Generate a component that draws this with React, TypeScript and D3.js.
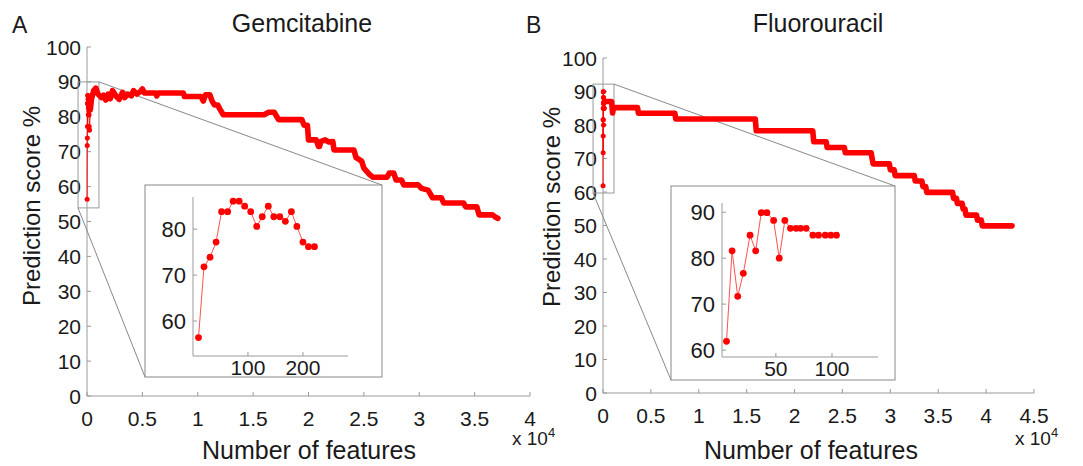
import React from "react";
import * as d3 from "d3";

// ---- Gemcitabine (panel A) ----
const gemInsetFeatures = [10, 20, 31, 42, 52, 63, 73, 84, 94, 105, 116, 126, 137, 147, 158, 168, 179, 189, 200, 210, 221];
const gemInsetScore = [56.4, 71.8, 73.9, 77.2, 83.8, 83.8, 86.1, 86.1, 85.0, 83.8, 80.6, 82.7, 85.0, 82.7, 82.7, 81.7, 83.8, 80.6, 77.2, 76.2, 76.2];

const gemFeatures = [
  300, 400, 600, 800, 1000, 1300, 1500, 1700, 1900, 2100, 2300, 2600, 2900, 3200, 3400, 3700, 4000, 4200, 4500, 4800,
  5000, 5200, 6200, 6300, 6400, 8700, 8800, 10300, 10500, 10700, 11100, 11300, 11500, 11800, 12000, 12300, 16000,
  16400, 16900, 17300, 19400, 19600, 19900, 20000, 20700, 20900, 21000, 21100, 21500, 21800, 22200, 22300, 24100,
  24300, 24800, 25000, 25500, 25800, 27100, 27300, 27700, 27900, 28400, 28600, 29900, 30200, 30800, 31200, 32000,
  32200, 34000, 34200, 35200, 35400, 36600, 36900, 37100,
];
const gemScore = [
  82, 85, 87.5, 88.2, 86.5, 85.5, 86.2, 84.8, 86.5, 85.2, 87.5, 86, 85, 87, 85.5, 86.5, 86, 87.5, 86.5, 87.2,
  88, 86.8, 86.8, 86, 86.8, 86.8, 85.8, 85.8, 84.5, 86.3, 86.3, 84.5, 83.4, 83.4, 82.2, 80.6, 80.6,
  81.3, 81.3, 79.2, 79.2, 77.6, 77.6, 73.4, 73.4, 71.5, 71.5, 72.9, 73.4, 72.8, 72.9, 70.5, 70.5,
  68.3, 67.3, 65.3, 63.5, 62.7, 62.7, 63.9, 63.9, 61.9, 61.9, 60.5, 60.5, 59.5, 59.0, 56.8, 56.8,
  55.3, 55.3, 54.2, 54.2, 51.9, 51.9, 51.2, 50.9,
];

// ---- Fluorouracil (panel B) ----
const fluInsetFeatures = [6, 11, 16, 21, 27, 32, 37, 42, 48, 53, 58, 63, 68, 72, 77, 83, 88, 94, 99, 104];
const fluInsetScore = [61.9, 81.6, 71.7, 76.7, 85, 81.6, 89.9, 89.9, 88.2, 80, 88.2, 86.5, 86.5, 86.5, 86.5, 85, 85, 85, 85, 85];

const fluFeatures = [
  150, 900, 1000, 1100, 3600, 3700, 7500, 7600, 15900, 16000, 21900, 22000, 23300, 23400, 25200, 25300, 28000,
  28100, 28200, 29900, 30000, 30400, 30500, 32500, 32600, 33300, 33400, 33700, 33800, 36500, 36600, 36900, 37000,
  37500, 37600, 37800, 37900, 39000, 39100, 39500, 39600, 42700,
];
const fluScore = [
  87, 87, 83.6, 85.2, 85.2, 83.5, 83.5, 81.8, 81.8, 78.3, 78.3, 75, 75, 73.3, 73.3, 71.7, 71.7,
  70, 68.4, 68.4, 66.6, 66.6, 64.9, 64.9, 63.3, 63.3, 61.6, 61.6, 59.9, 59.9, 58.1, 58.1, 56.6,
  56.6, 54.9, 54.9, 53.1, 53.1, 51.6, 51.6, 49.9, 49.9,
];

const yTickValues = [0, 10, 20, 30, 40, 50, 60, 70, 80, 90, 100];
const gemXTicks = [0, 0.5, 1, 1.5, 2, 2.5, 3, 3.5, 4];
const fluXTicks = [0, 0.5, 1, 1.5, 2, 2.5, 3, 3.5, 4, 4.5];
const gemInsetYTicks = [60, 70, 80];
const gemInsetXTicks = [100, 200];
const fluInsetYTicks = [60, 70, 80, 90];
const fluInsetXTicks = [50, 100];

const FONT = "Liberation Sans, Arial, Helvetica, sans-serif";
const AXIS = "#9a9a9a";
const RED = "#ff0000";
const TXT = "#1a1a1a";

type PanelCfg = {
  letter: string;
  letterX: number;
  title: string;
  titleX: number;
  xRange: [number, number];
  xMax: number;
  yRange: [number, number];
  xTicks: number[];
  yLabelX: number;
  yLabelY: number;
  labelCenter: number;
  expX: number;
  zoomX: [number, number];
  zoomY: [number, number];
  inset: { x0: number; y0: number; x1: number; y1: number };
  insetXDomain: [number, number];
  insetXRange: [number, number];
  insetYDomain: [number, number];
  insetYRange: [number, number];
  insetXTicks: number[];
  insetYTicks: number[];
  insetN: number[];
  insetS: number[];
  n: number[];
  s: number[];
};

function Panel({ c }: { c: PanelCfg }) {
  const xs = d3.scaleLinear().domain([0, c.xMax]).range(c.xRange);
  const ys = d3.scaleLinear().domain([0, 100]).range(c.yRange);
  const x0 = xs(0);
  const y0 = ys(0);

  const ixs = d3.scaleLinear().domain(c.insetXDomain).range(c.insetXRange);
  const iys = d3.scaleLinear().domain(c.insetYDomain).range(c.insetYRange);

  const mainLine = d3
    .line<number>()
    .x((d, i) => xs(c.n[i]))
    .y((d) => ys(d));
  const earlyLine = d3
    .line<number>()
    .x((d, i) => xs(c.insetN[i]))
    .y((d) => ys(d));
  const insetLine = d3
    .line<number>()
    .x((d, i) => ixs(c.insetN[i]))
    .y((d) => iys(d));

  const lastEarly = c.insetN.length - 1;
  const bridge = d3.line()([
    [xs(c.insetN[lastEarly]), ys(c.insetS[lastEarly])],
    [xs(c.n[0]), ys(c.s[0])],
  ]);

  const bx0 = xs(c.zoomX[0]);
  const bx1 = xs(c.zoomX[1]);
  const by0 = ys(c.zoomY[1]);
  const by1 = ys(c.zoomY[0]);
  const ins = c.inset;
  const iax = c.insetXRange[0];
  const iay = c.insetYRange[0];

  return (
    <g fontFamily={FONT} fill={TXT}>
      <text x={c.letterX} y={33} fontSize={23}>{c.letter}</text>
      <text x={c.titleX} y={32} fontSize={25} textAnchor="middle">{c.title}</text>

      {/* axes */}
      <line x1={x0} x2={x0} y1={y0} y2={ys(100)} stroke={AXIS} />
      <line x1={x0} x2={xs(c.xMax)} y1={y0} y2={y0} stroke={AXIS} />
      {yTickValues.map((v) => (
        <g key={"y" + v}>
          <line x1={x0} x2={x0 + 4} y1={ys(v)} y2={ys(v)} stroke={AXIS} />
          <text x={x0 - 6} y={ys(v)} dy="0.36em" fontSize={21} textAnchor="end">{v}</text>
        </g>
      ))}
      {c.xTicks.map((v) => (
        <g key={"x" + v}>
          <line x1={xs(v * 1e4)} x2={xs(v * 1e4)} y1={y0} y2={y0 - 4} stroke={AXIS} />
          <text x={xs(v * 1e4)} y={y0 + 30} fontSize={21} textAnchor="middle">{v}</text>
        </g>
      ))}
      <text x={c.expX} y={445} fontSize={19}>
        x 10<tspan dy={-8} fontSize={13}>4</tspan>
      </text>
      <text x={c.labelCenter} y={459} fontSize={25} textAnchor="middle">Number of features</text>
      <text
        transform={`translate(${c.yLabelX},${c.yLabelY}) rotate(-90)`}
        fontSize={24}
        textAnchor="middle"
      >
        Prediction score %
      </text>

      {/* zoom guide */}
      <rect x={bx0} y={by0} width={bx1 - bx0} height={by1 - by0} fill="none" stroke={AXIS} />
      <line x1={bx1} y1={by0} x2={ins.x1} y2={ins.y0} stroke="#888" />
      <line x1={bx0} y1={by1} x2={ins.x0} y2={ins.y1} stroke="#888" />

      {/* main series */}
      <path d={earlyLine(c.insetS) || ""} fill="none" stroke={RED} strokeWidth={1} />
      {c.insetS.map((v, i) => (
        <circle key={"e" + i} cx={xs(c.insetN[i])} cy={ys(v)} r={2.5} fill={RED} />
      ))}
      <path d={bridge || ""} fill="none" stroke={RED} strokeWidth={1} />
      <path
        d={mainLine(c.s) || ""}
        fill="none"
        stroke={RED}
        strokeWidth={5.6}
        strokeLinejoin="round"
        strokeLinecap="round"
      />

      {/* inset */}
      <rect x={ins.x0} y={ins.y0} width={ins.x1 - ins.x0} height={ins.y1 - ins.y0} fill="#fff" stroke="#888" />
      <line x1={iax} x2={iax} y1={iay} y2={c.insetYRange[1]} stroke={AXIS} />
      <line x1={iax} x2={c.insetXRange[1]} y1={iay} y2={iay} stroke={AXIS} />
      {c.insetYTicks.map((v) => (
        <g key={"iy" + v}>
          <line x1={iax} x2={iax + 4} y1={iys(v)} y2={iys(v)} stroke={AXIS} />
          <text x={iax - 7} y={iys(v)} dy="0.36em" fontSize={22} textAnchor="end">{v}</text>
        </g>
      ))}
      {c.insetXTicks.map((v) => (
        <g key={"ix" + v}>
          <line x1={ixs(v)} x2={ixs(v)} y1={iay} y2={iay - 4} stroke={AXIS} />
          <text x={ixs(v)} y={iay + 19} fontSize={21} textAnchor="middle">{v}</text>
        </g>
      ))}
      <path d={insetLine(c.insetS) || ""} fill="none" stroke="#ff5050" strokeWidth={1} />
      {c.insetS.map((v, i) => (
        <circle key={"i" + i} cx={ixs(c.insetN[i])} cy={iys(v)} r={3.4} fill={RED} />
      ))}
    </g>
  );
}

const gemCfg: PanelCfg = {
  letter: "A",
  letterX: 12,
  title: "Gemcitabine",
  titleX: 302,
  xRange: [87, 530],
  xMax: 40000,
  yRange: [396, 47],
  xTicks: gemXTicks,
  yLabelX: 40,
  yLabelY: 206,
  labelCenter: 309,
  expX: 512,
  zoomX: [-810, 1080],
  zoomY: [53.9, 90],
  inset: { x0: 145, y0: 185, x1: 382, y1: 377 },
  insetXDomain: [0, 282],
  insetXRange: [193, 348],
  insetYDomain: [52.4, 87],
  insetYRange: [356, 197],
  insetXTicks: gemInsetXTicks,
  insetYTicks: gemInsetYTicks,
  insetN: gemInsetFeatures,
  insetS: gemInsetScore,
  n: gemFeatures,
  s: gemScore,
};

const fluCfg: PanelCfg = {
  letter: "B",
  letterX: 526,
  title: "Fluorouracil",
  titleX: 818,
  xRange: [603, 1034],
  xMax: 45000,
  yRange: [393, 58],
  xTicks: fluXTicks,
  yLabelX: 560,
  yLabelY: 207,
  labelCenter: 811,
  expX: 1015,
  zoomX: [-1040, 1146],
  zoomY: [59.7, 92.2],
  inset: { x0: 671, y0: 186, x1: 895, y1: 380 },
  insetXDomain: [2, 141],
  insetXRange: [722, 878],
  insetYDomain: [58.5, 92],
  insetYRange: [357, 203],
  insetXTicks: fluInsetXTicks,
  insetYTicks: fluInsetYTicks,
  insetN: fluInsetFeatures,
  insetS: fluInsetScore,
  n: fluFeatures,
  s: fluScore,
};

export default function App() {
  return (
    <svg
      width={1083}
      height={466}
      style={{ position: "absolute", left: 0, top: 0, background: "#fff" }}
    >
      <Panel c={gemCfg} />
      <Panel c={fluCfg} />
    </svg>
  );
}
